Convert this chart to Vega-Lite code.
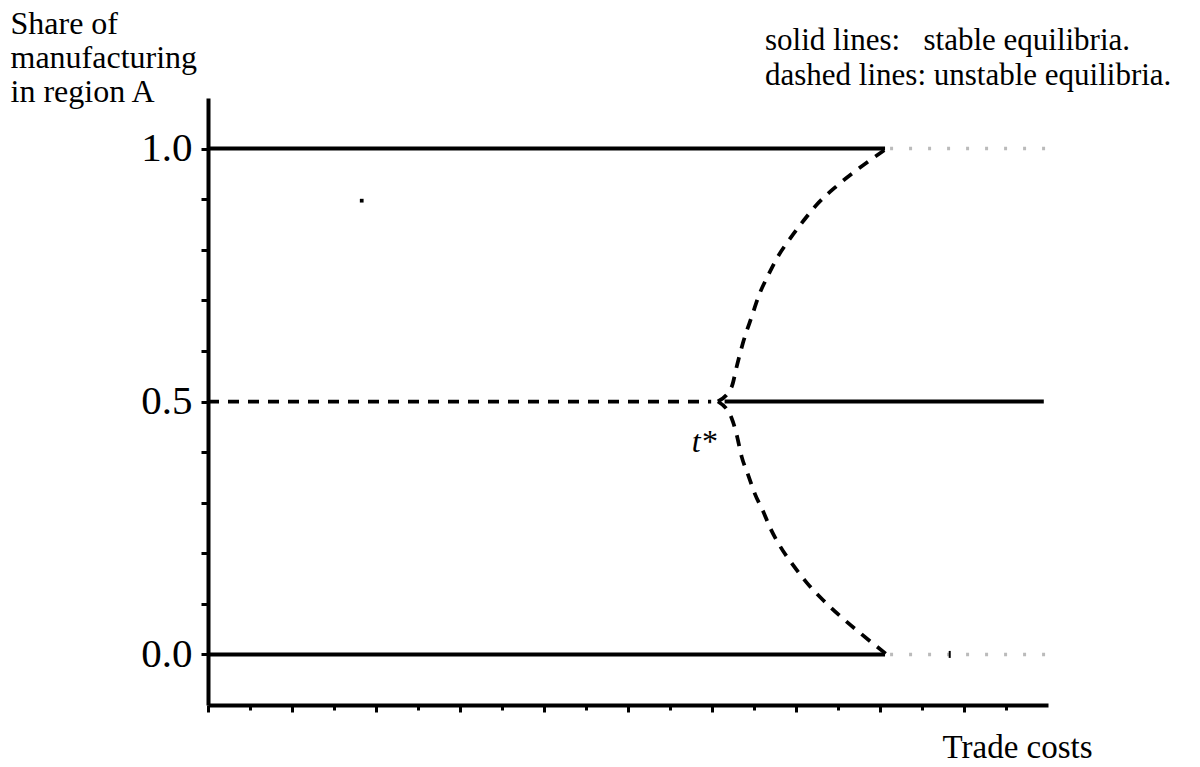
{
  "$schema": "https://vega.github.io/schema/vega-lite/v6.json",
  "width": 840,
  "height": 607,
  "autosize": {"type": "none"},
  "padding": {"left": 208, "top": 98, "right": 152, "bottom": 62},
  "background": "white",
  "config": {
    "view": {"stroke": null},
    "font": "Liberation Serif",
    "axis": {"grid": false, "domainColor": "black", "tickColor": "black", "labelColor": "black", "titleColor": "black", "titleFontWeight": "normal", "labelFont": "Liberation Serif", "titleFont": "Liberation Serif"}
  },
  "datasets": {
    "curves": [
      {"t": 0, "share": 1, "branch": "top", "stability": "stable"},
      {"t": 8.06, "share": 1, "branch": "top", "stability": "stable"},
      {"t": 0, "share": 0, "branch": "bottom", "stability": "stable"},
      {"t": 8.06, "share": 0, "branch": "bottom", "stability": "stable"},
      {"t": 0, "share": 0.5, "branch": "mid-left", "stability": "unstable"},
      {"t": 5.99, "share": 0.5, "branch": "mid-left", "stability": "unstable"},
      {"t": 6.15, "share": 0.5, "branch": "mid-right", "stability": "stable"},
      {"t": 9.95, "share": 0.5, "branch": "mid-right", "stability": "stable"},
      {"t": 6.07, "share": 0.5, "branch": "upper", "stability": "unstable"},
      {"t": 6.234, "share": 0.529, "branch": "upper", "stability": "unstable"},
      {"t": 6.294, "share": 0.569, "branch": "upper", "stability": "unstable"},
      {"t": 6.369, "share": 0.616, "branch": "upper", "stability": "unstable"},
      {"t": 6.473, "share": 0.668, "branch": "upper", "stability": "unstable"},
      {"t": 6.571, "share": 0.715, "branch": "upper", "stability": "unstable"},
      {"t": 6.667, "share": 0.749, "branch": "upper", "stability": "unstable"},
      {"t": 6.786, "share": 0.787, "branch": "upper", "stability": "unstable"},
      {"t": 6.929, "share": 0.822, "branch": "upper", "stability": "unstable"},
      {"t": 7.083, "share": 0.856, "branch": "upper", "stability": "unstable"},
      {"t": 7.246, "share": 0.889, "branch": "upper", "stability": "unstable"},
      {"t": 7.484, "share": 0.926, "branch": "upper", "stability": "unstable"},
      {"t": 7.75, "share": 0.961, "branch": "upper", "stability": "unstable"},
      {"t": 8.08, "share": 1.0, "branch": "upper", "stability": "unstable"},
      {"t": 6.07, "share": 0.5, "branch": "lower", "stability": "unstable"},
      {"t": 6.234, "share": 0.467, "branch": "lower", "stability": "unstable"},
      {"t": 6.294, "share": 0.434, "branch": "lower", "stability": "unstable"},
      {"t": 6.353, "share": 0.391, "branch": "lower", "stability": "unstable"},
      {"t": 6.432, "share": 0.354, "branch": "lower", "stability": "unstable"},
      {"t": 6.512, "share": 0.317, "branch": "lower", "stability": "unstable"},
      {"t": 6.611, "share": 0.282, "branch": "lower", "stability": "unstable"},
      {"t": 6.69, "share": 0.251, "branch": "lower", "stability": "unstable"},
      {"t": 6.81, "share": 0.214, "branch": "lower", "stability": "unstable"},
      {"t": 6.968, "share": 0.176, "branch": "lower", "stability": "unstable"},
      {"t": 7.127, "share": 0.142, "branch": "lower", "stability": "unstable"},
      {"t": 7.325, "share": 0.107, "branch": "lower", "stability": "unstable"},
      {"t": 7.544, "share": 0.073, "branch": "lower", "stability": "unstable"},
      {"t": 7.78, "share": 0.04, "branch": "lower", "stability": "unstable"},
      {"t": 8.08, "share": 0.0, "branch": "lower", "stability": "unstable"},
      {"t": 8.12, "share": 1, "branch": "top-right", "stability": "faint"},
      {"t": 10, "share": 1, "branch": "top-right", "stability": "faint"},
      {"t": 8.12, "share": 0, "branch": "bottom-right", "stability": "faint"},
      {"t": 10, "share": 0, "branch": "bottom-right", "stability": "faint"}
    ],
    "notes": [
      {"t": 6.631, "share": 1.1949, "note": "solid lines:\u00a0\u00a0\u00a0stable equilibria."},
      {"t": 6.631, "share": 1.1257, "note": "dashed lines: unstable equilibria."}
    ],
    "marker": [
      {"t": 5.758, "share": 0.4, "note": "t*"}
    ],
    "specks": [
      {"t": 1.83, "share": 0.897}
    ],
    "nicks": [
      {"t": 8.83, "share": 0.0}
    ]
  },
  "layer": [
    {
      "data": {"name": "curves"},
      "mark": {"type": "line", "interpolate": "monotone", "strokeCap": "butt"},
      "encoding": {
        "x": {
          "field": "t",
          "type": "quantitative",
          "scale": {"domain": [0, 10], "nice": false, "zero": false},
          "axis": {
            "values": [0, 0.5, 1, 1.5, 2, 2.5, 3, 3.5, 4, 4.5, 5, 5.5, 6, 6.5, 7, 7.5, 8, 8.5, 9, 9.5],
            "labels": false,
            "domainWidth": 4,
            "tickWidth": 3,
            "tickSize": {"condition": {"test": "datum.value % 1 === 0", "value": 7}, "value": 5},
            "title": "Trade costs",
            "titleFontSize": 33,
            "titleAlign": "left",
            "titleBaseline": "alphabetic",
            "titleX": 734,
            "titleY": 52
          }
        },
        "y": {
          "field": "share",
          "type": "quantitative",
          "scale": {"domain": [-0.1, 1.1], "nice": false, "zero": false},
          "axis": {
            "values": [0, 0.1, 0.2, 0.3, 0.4, 0.5, 0.6, 0.7, 0.8, 0.9, 1],
            "labelExpr": "datum.value === 0 || datum.value === 0.5 || datum.value === 1 ? format(datum.value, '.1f') : ''",
            "labelFontSize": 41,
            "labelPadding": 9,
            "domainWidth": 4,
            "tickWidth": 3,
            "tickSize": 7,
            "title": ["Share of", "manufacturing", "in region A"],
            "titleFontSize": 32,
            "titleLineHeight": 34,
            "titleAngle": 0,
            "titleAlign": "left",
            "titleBaseline": "alphabetic",
            "titleX": -198,
            "titleY": -65
          }
        },
        "detail": {"field": "branch"},
        "color": {
          "field": "stability",
          "type": "nominal",
          "scale": {"domain": ["stable", "unstable", "faint"], "range": ["black", "black", "#bbbbbb"]},
          "legend": null
        },
        "strokeDash": {
          "field": "stability",
          "type": "nominal",
          "scale": {"domain": ["stable", "unstable", "faint"], "range": [[1, 0], [11, 9], [3, 16]]},
          "legend": null
        },
        "strokeWidth": {
          "field": "stability",
          "type": "ordinal",
          "scale": {"domain": ["stable", "unstable", "faint"], "range": [4, 3.5, 1.5]},
          "legend": null
        }
      }
    },
    {
      "data": {"name": "notes"},
      "mark": {"type": "text", "align": "left", "baseline": "alphabetic", "fontSize": 31, "font": "Liberation Serif", "color": "black"},
      "encoding": {
        "x": {"field": "t", "type": "quantitative"},
        "y": {"field": "share", "type": "quantitative"},
        "text": {"field": "note"}
      }
    },
    {
      "data": {"name": "marker"},
      "mark": {"type": "text", "align": "left", "baseline": "alphabetic", "fontSize": 32, "fontStyle": "italic", "font": "Liberation Serif", "color": "black"},
      "encoding": {
        "x": {"field": "t", "type": "quantitative"},
        "y": {"field": "share", "type": "quantitative"},
        "text": {"field": "note"}
      }
    },
    {
      "data": {"name": "specks"},
      "mark": {"type": "square", "size": 14, "filled": true, "color": "black", "opacity": 1},
      "encoding": {
        "x": {"field": "t", "type": "quantitative"},
        "y": {"field": "share", "type": "quantitative"}
      }
    },
    {
      "data": {"name": "nicks"},
      "mark": {"type": "tick", "orient": "vertical", "size": 7, "thickness": 2, "color": "black", "opacity": 1},
      "encoding": {
        "x": {"field": "t", "type": "quantitative"},
        "y": {"field": "share", "type": "quantitative"}
      }
    }
  ]
}
